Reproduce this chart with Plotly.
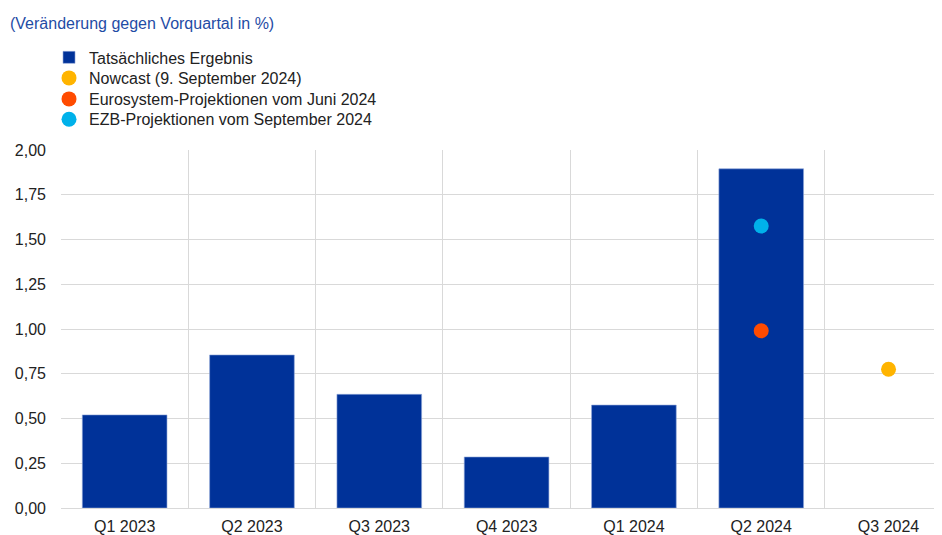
import plotly.graph_objects as go

categories = ["Q1 2023", "Q2 2023", "Q3 2023", "Q4 2023", "Q1 2024", "Q2 2024", "Q3 2024"]
actual = [0.52, 0.855, 0.635, 0.285, 0.575, 1.895, None]
nowcast_cat = ["Q3 2024"]
nowcast_val = [0.775]
june_cat = ["Q2 2024"]
june_val = [0.99]
sept_cat = ["Q2 2024"]
sept_val = [1.575]
y_ticks = [0, 0.25, 0.5, 0.75, 1.0, 1.25, 1.5, 1.75, 2.0]

FONT = "Liberation Sans"
FS = 16

fig = go.Figure()
fig.add_trace(go.Bar(
    x=categories, y=actual, name="Tatsächliches Ergebnis",
    marker=dict(color="#003299", line=dict(color="#8fa6d8", width=0.6)),
    width=0.665, legend="legend",
))
fig.add_trace(go.Scatter(
    x=nowcast_cat, y=nowcast_val, mode="markers", name="Nowcast (9. September 2024)",
    marker=dict(color="#FFB400", size=15), legend="legend2",
))
fig.add_trace(go.Scatter(
    x=june_cat, y=june_val, mode="markers", name="Eurosystem-Projektionen vom Juni 2024",
    marker=dict(color="#FF4B00", size=15), legend="legend3",
))
fig.add_trace(go.Scatter(
    x=sept_cat, y=sept_val, mode="markers", name="EZB-Projektionen vom September 2024",
    marker=dict(color="#00B1EA", size=15), legend="legend4",
))

def leg(y):
    return dict(
        x=-0.0136, xanchor="left", y=y, yanchor="middle",
        bgcolor="rgba(0,0,0,0)", font=dict(family=FONT, size=FS, color="#222222"),
        itemclick=False, itemdoubleclick=False,
    )

fig.update_layout(
    width=934, height=527,
    margin=dict(l=53, r=0, t=142, b=27),
    paper_bgcolor="white", plot_bgcolor="white",
    font=dict(family=FONT, size=FS, color="#222222"),
    separators=",.",
    showlegend=True,
    legend=leg(1.2585),
    legend2=leg(1.2011),
    legend3=leg(1.1425),
    legend4=leg(1.0857),
    annotations=[dict(
        text="(Veränderung gegen Vorquartal in %)", xref="paper", yref="paper",
        x=-0.0603, y=1.3547, xanchor="left", yanchor="middle", showarrow=False,
        font=dict(family=FONT, size=FS, color="#1f4ca5"),
    )],
    xaxis=dict(
        type="category", categoryorder="array", categoryarray=categories,
        range=[-0.5, 6.42], tickson="boundaries", showgrid=True,
        gridcolor="#d9d9d9", gridwidth=1, showline=True, linecolor="#d9d9d9",
        ticks="", tickfont=dict(family=FONT, size=FS, color="#222222"),
        automargin=False, ticklabelstandoff=4,
    ),
    yaxis=dict(
        range=[0, 2], tickvals=y_ticks, tickformat=".2f", showgrid=True,
        gridcolor="#d9d9d9", gridwidth=1, zeroline=False, ticks="",
        tickfont=dict(family=FONT, size=FS, color="#222222"),
        automargin=False, ticklabelstandoff=14,
    ),
    bargap=0.3,
)

fig.write_html("out.html")
